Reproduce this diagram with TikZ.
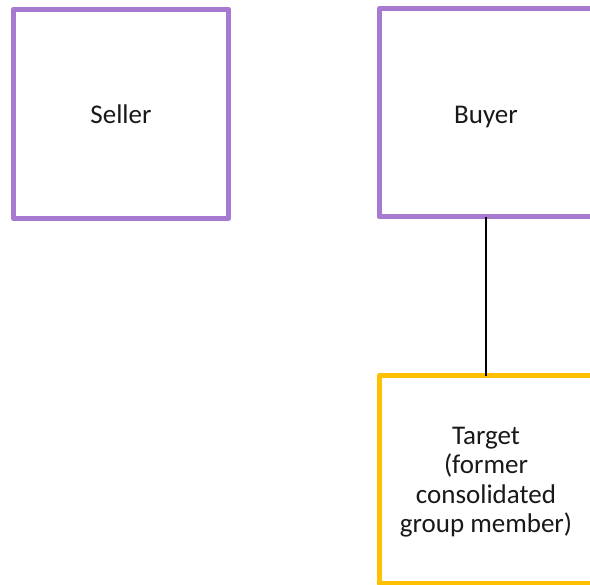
\documentclass[tikz,border=0pt]{standalone}
\usepackage{fontspec}
\setmainfont{Carlito}
\definecolor{boxpurple}{RGB}{166,122,208}
\definecolor{boxyellow}{RGB}{255,192,0}
\tikzset{
  entity/.style={line width=5pt, line join=round, outer sep=0pt, minimum width=215pt, minimum height=209pt, inner sep=0pt, align=center, font=\fontsize{27}{29.5}\selectfont, text=black!90},
  single/.style={text height=20.5pt, text depth=0pt},
  frame/.style={draw, line width=5pt, line join=round},
  link/.style={draw=black, line width=1.8pt}
}
\begin{document}
\begin{tikzpicture}[x=1pt,y=-1pt]
\useasboundingbox (0,0) rectangle (590,585);
\clip (0,0) rectangle (590,585);
\fill[white] (0,0) rectangle (590,585);
\node[entity, single, draw=boxpurple] (seller) at (121,113.75) {Seller};
\node[entity, single, minimum width=214pt, minimum height=208pt] (buyer) at (486,113) {Buyer};
\node[entity, text depth=0pt, minimum width=214pt, minimum height=208pt] (target) at (486,480) {Target\\(former\\consolidated\\group member)};
\draw[frame, boxpurple] (buyer.north west) rectangle ([xshift=20pt]buyer.south east);
\draw[frame, boxyellow] (target.north west) rectangle ([xshift=20pt]target.south east);
\draw[link] (buyer.south) -- (target.north);
\end{tikzpicture}
\end{document}
